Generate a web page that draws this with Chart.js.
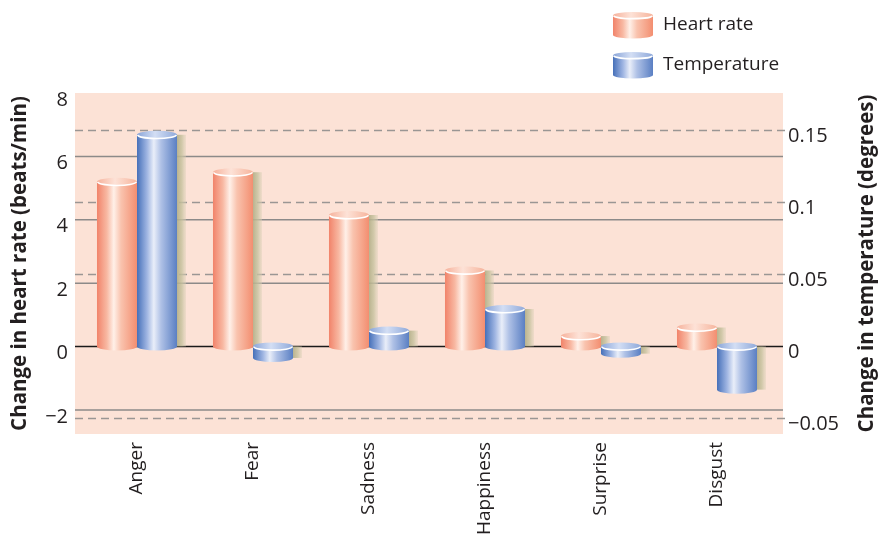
<!DOCTYPE html>
<html><head><meta charset="utf-8">
<script src="https://cdn.jsdelivr.net/npm/chart.js@4.4.0/dist/chart.umd.min.js"></script>
<style>html,body{margin:0;padding:0;background:#fff;}</style>
</head><body>
<canvas id="c" width="878" height="541"></canvas>
<script>
const categories = ['Anger', 'Fear', 'Sadness', 'Happiness', 'Surprise', 'Disgust'];
const heartRate = [5.2, 5.5, 4.15, 2.4, 0.33, 0.6];
const temperature = [0.147, -0.008, 0.011, 0.026, -0.005, -0.03];
const heartTicks = [8, 6, 4, 2, 0, -2];
const tempTicks = [0.15, 0.1, 0.05, 0, -0.05];
const seriesNames = ['Heart rate', 'Temperature'];
const leftTitle = 'Change in heart rate (beats/min)';
const rightTitle = 'Change in temperature (degrees)';

const FONT = '"Open Sans", "Noto Sans", sans-serif';
const TEXT = '#231f20';
const styles = [
  {stops: [[0, '#f1836a'], [0.25, '#f8b9a3'], [0.42, '#fff0e8'], [0.6, '#f9c3ae'], [1, '#f38e70']],
   cap: [[0, '#f6b29c'], [0.45, '#fde2d7'], [1, '#f6b49c']]},
  {stops: [[0, '#4670b9'], [0.25, '#9fb5e2'], [0.42, '#e9eef9'], [0.6, '#afc1e6'], [1, '#5a7fc3']],
   cap: [[0, '#8aa5d8'], [0.45, '#d3def4'], [1, '#8fa9da']]}
];

function fmt(v) { return v < 0 ? '\u2212' + String(Math.abs(v)) : String(v); }

function cylinder(ctx, cx, top, bottom, w, st, ry) {
  const l = cx - w / 2, r = cx + w / 2, rx = w / 2;
  const g = ctx.createLinearGradient(l, 0, r, 0);
  st.stops.forEach(s => g.addColorStop(s[0], s[1]));
  ctx.save();
  ctx.beginPath();
  ctx.moveTo(l, top);
  ctx.lineTo(l, bottom);
  ctx.ellipse(cx, bottom, rx, ry, 0, Math.PI, 0, true);
  ctx.lineTo(r, top);
  ctx.closePath();
  ctx.fillStyle = g;
  ctx.fill();
  const cg = ctx.createLinearGradient(l, 0, r, 0);
  st.cap.forEach(s => cg.addColorStop(s[0], s[1]));
  ctx.beginPath();
  ctx.ellipse(cx, top, rx, ry, 0, 0, Math.PI * 2);
  ctx.fillStyle = cg;
  ctx.fill();
  ctx.beginPath();
  ctx.ellipse(cx, top, rx - 0.7, ry - 0.3, 0, 0.05, Math.PI - 0.05);
  ctx.strokeStyle = '#ffffff';
  ctx.lineWidth = 1.6;
  ctx.stroke();
  ctx.restore();
}

function shadow(ctx, cx, top, bottom, w) {
  const x0 = cx + w / 2;
  const g = ctx.createLinearGradient(x0, 0, x0 + 10, 0);
  g.addColorStop(0, 'rgba(178,174,135,0.9)');
  g.addColorStop(0.5, 'rgba(200,195,160,0.8)');
  g.addColorStop(1, 'rgba(225,212,190,0.3)');
  ctx.save();
  ctx.fillStyle = g;
  ctx.fillRect(x0, top, 9, bottom - top);
  ctx.restore();
}

const decor = {
  id: 'decor',
  beforeDatasetsDraw(chart) {
    const {ctx, chartArea: a, scales: {y, y1}} = chart;
    const L = a.left - 4, R = a.right + 8;
    ctx.save();
    ctx.fillStyle = '#fce2d6';
    ctx.fillRect(L, a.top, R - L, a.bottom - a.top);
    ctx.setLineDash([8, 5]);
    ctx.strokeStyle = '#9a9694';
    ctx.lineWidth = 1.5;
    tempTicks.forEach(v => {
      if (v === 0) return;
      const py = y1.getPixelForValue(v);
      ctx.beginPath(); ctx.moveTo(L, py); ctx.lineTo(R + 3, py); ctx.stroke();
    });
    ctx.setLineDash([]);
    heartTicks.forEach(v => {
      const py = y.getPixelForValue(v);
      if (py <= a.top + 1) return;
      ctx.strokeStyle = v === 0 ? '#1a1a1a' : '#8c8a89';
      ctx.lineWidth = 1.5;
      ctx.beginPath(); ctx.moveTo(L, py); ctx.lineTo(R, py); ctx.stroke();
    });
    ctx.restore();
  },
  afterDatasetsDraw(chart) {
    const ctx = chart.ctx;
    const bars = [];
    chart.data.datasets.forEach((ds, di) => {
      const meta = chart.getDatasetMeta(di);
      meta.data.forEach(el => {
        const p = el.getProps(['x', 'y', 'base', 'width'], true);
        bars.push({cx: p.x, top: Math.min(p.y, p.base), bottom: Math.max(p.y, p.base), w: p.width, st: styles[di]});
      });
    });
    bars.forEach(b => shadow(ctx, b.cx, b.top, b.bottom, b.w));
    bars.forEach(b => cylinder(ctx, b.cx, b.top, b.bottom, b.w, b.st, 4));
  },
  afterDraw(chart) {
    const {ctx, chartArea: a} = chart;
    ctx.save();
    ctx.fillStyle = TEXT;
    ctx.font = 'bold 20.5px ' + FONT;
    ctx.textAlign = 'center';
    ctx.textBaseline = 'middle';
    const cy = (a.top + a.bottom) / 2;
    ctx.save(); ctx.translate(20, cy); ctx.rotate(-Math.PI / 2); ctx.fillText(leftTitle, 0, 0); ctx.restore();
    ctx.save(); ctx.translate(867, cy); ctx.rotate(-Math.PI / 2); ctx.fillText(rightTitle, 0, 0); ctx.restore();
    chart.data.datasets.forEach((ds, i) => {
      const top = 15.5 + i * 40;
      cylinder(ctx, 633, top, top + 19.5, 40, styles[i], 3.4);
      ctx.fillStyle = TEXT;
      ctx.font = '19px ' + FONT;
      ctx.textAlign = 'left';
      ctx.textBaseline = 'middle';
      ctx.fillText(ds.label, 663, top + 9.5);
    });
    ctx.restore();
  }
};

new Chart(document.getElementById('c'), {
  type: 'bar',
  data: {
    labels: categories,
    datasets: [
      {label: seriesNames[0], data: heartRate, yAxisID: 'y', backgroundColor: 'rgba(0,0,0,0)', borderWidth: 0},
      {label: seriesNames[1], data: temperature, yAxisID: 'y1', backgroundColor: 'rgba(0,0,0,0)', borderWidth: 0}
    ]
  },
  options: {
    responsive: false,
    animation: false,
    devicePixelRatio: 1,
    layout: {padding: {top: 93, left: 0, right: 0, bottom: 0}},
    datasets: {bar: {categoryPercentage: 0.69, barPercentage: 1.0}},
    plugins: {legend: {display: false}, tooltip: {enabled: false}, title: {display: false}},
    scales: {
      x: {
        grid: {display: false, drawTicks: false}, border: {display: false},
        ticks: {color: TEXT, font: {family: FONT, size: 19}, minRotation: 90, maxRotation: 90, padding: 8, autoSkip: false},
        afterFit: s => { s.height = 107; }
      },
      y: {
        position: 'left', min: -2.76, max: 8,
        grid: {display: false, drawTicks: false}, border: {display: false},
        afterBuildTicks: s => { s.ticks = heartTicks.map(v => ({value: v})); },
        ticks: {color: TEXT, font: {family: FONT, size: 20}, padding: 11, labelOffset: 7, callback: v => fmt(v)},
        afterFit: s => { s.width = 79; }
      },
      y1: {
        position: 'right', min: -0.0608, max: 0.176,
        grid: {display: false, drawTicks: false}, border: {display: false},
        afterBuildTicks: s => { s.ticks = tempTicks.map(v => ({value: v})); },
        ticks: {color: TEXT, font: {family: FONT, size: 20}, padding: 13, labelOffset: 6, callback: v => fmt(v)},
        afterFit: s => { s.width = 103; }
      }
    }
  },
  plugins: [decor]
});
</script>
</body></html>
